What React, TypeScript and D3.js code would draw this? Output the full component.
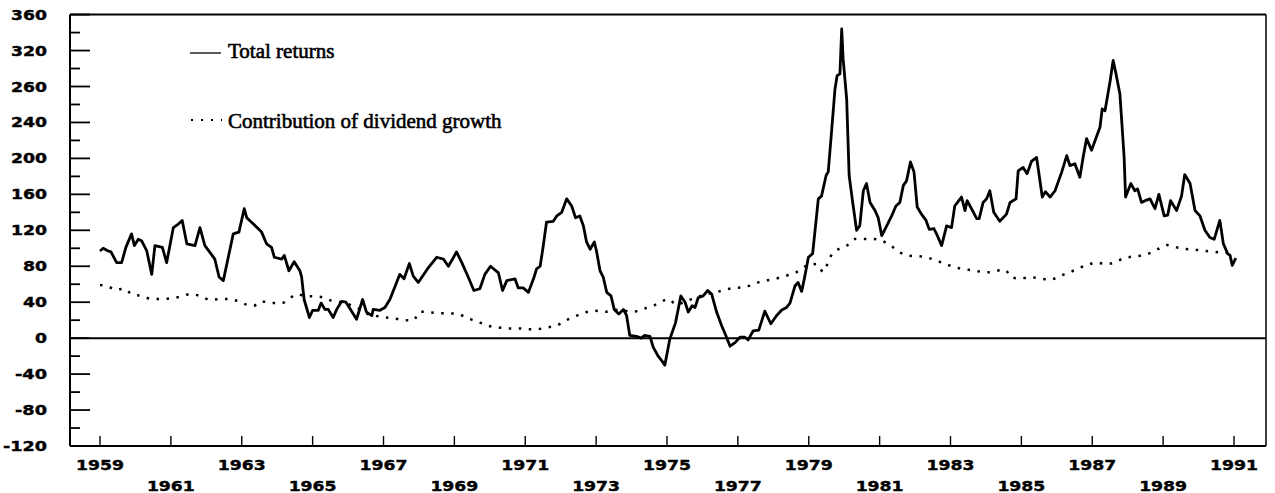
import React from "react";
import * as d3 from "d3";

// [decimal year, value]
const totalReturns: [number, number][] = [
  [1959.0, 97], [1959.09, 100], [1959.23, 97], [1959.31, 96], [1959.47, 84], [1959.61, 84], [1959.73, 101],
  [1959.89, 116], [1959.97, 103], [1960.08, 110], [1960.18, 108], [1960.32, 97], [1960.46, 71], [1960.55, 103],
  [1960.76, 101], [1960.88, 84], [1961.07, 123], [1961.21, 127], [1961.32, 131], [1961.45, 105], [1961.68, 103],
  [1961.82, 123], [1961.96, 103], [1962.24, 88], [1962.36, 68], [1962.48, 64], [1962.76, 116], [1962.92, 118],
  [1963.07, 144], [1963.14, 134], [1963.33, 127], [1963.56, 118], [1963.7, 105], [1963.84, 101], [1963.92, 90],
  [1964.13, 88], [1964.2, 92], [1964.33, 75], [1964.48, 85], [1964.64, 75], [1964.69, 68], [1964.76, 43],
  [1964.91, 23], [1965.0, 31], [1965.16, 31], [1965.24, 39], [1965.35, 32], [1965.44, 32], [1965.58, 23],
  [1965.68, 32], [1965.82, 41], [1965.94, 40], [1966.1, 30], [1966.24, 21], [1966.41, 43], [1966.52, 29],
  [1966.67, 25], [1966.71, 32], [1966.9, 31], [1967.04, 34], [1967.18, 43], [1967.3, 55], [1967.46, 71],
  [1967.58, 66], [1967.73, 83], [1967.84, 69], [1967.98, 62], [1968.24, 77], [1968.5, 90], [1968.69, 88],
  [1968.83, 80], [1968.95, 88], [1969.06, 96], [1969.21, 84], [1969.39, 68], [1969.55, 53], [1969.72, 55],
  [1969.86, 71], [1970.02, 80], [1970.17, 75], [1970.24, 73], [1970.36, 53], [1970.48, 64], [1970.71, 66],
  [1970.8, 56], [1970.94, 56], [1971.09, 51], [1971.25, 68], [1971.32, 77], [1971.42, 80], [1971.51, 103],
  [1971.6, 129], [1971.79, 130], [1971.89, 136], [1972.03, 140], [1972.17, 155], [1972.31, 147], [1972.42, 134],
  [1972.54, 136], [1972.64, 125], [1972.73, 107], [1972.83, 99], [1972.95, 107], [1973.01, 97], [1973.11, 75],
  [1973.2, 68], [1973.3, 51], [1973.42, 47], [1973.51, 32], [1973.64, 27], [1973.77, 32], [1973.86, 25],
  [1973.95, 3], [1974.14, 2], [1974.27, 0], [1974.36, 3], [1974.52, 2], [1974.61, -10], [1974.75, -20],
  [1974.85, -25], [1974.94, -30], [1975.08, -1], [1975.24, 17], [1975.39, 47], [1975.51, 40], [1975.6, 29],
  [1975.71, 36], [1975.79, 34], [1975.88, 45], [1976.02, 47], [1976.15, 53], [1976.26, 49], [1976.4, 29],
  [1976.54, 14], [1976.66, 3], [1976.78, -9], [1976.92, -5], [1977.06, 1], [1977.2, 1], [1977.29, -2],
  [1977.43, 8], [1977.59, 9], [1977.76, 30], [1977.93, 16], [1978.09, 25], [1978.23, 31], [1978.37, 34],
  [1978.47, 39], [1978.61, 58], [1978.7, 62], [1978.8, 52], [1978.89, 69], [1978.99, 90], [1979.11, 94],
  [1979.27, 155], [1979.36, 158], [1979.49, 181], [1979.55, 185], [1979.65, 233], [1979.74, 277], [1979.8, 292],
  [1979.88, 294], [1979.93, 344], [1979.97, 311], [1980.07, 266], [1980.14, 181], [1980.24, 151], [1980.35, 120],
  [1980.44, 125], [1980.54, 164], [1980.63, 172], [1980.73, 151], [1980.87, 142], [1980.96, 134], [1981.06, 114],
  [1981.2, 125], [1981.34, 136], [1981.46, 147], [1981.57, 151], [1981.67, 170], [1981.76, 175], [1981.87, 196],
  [1981.97, 185], [1982.06, 146], [1982.18, 138], [1982.31, 131], [1982.4, 121], [1982.53, 122], [1982.63, 114],
  [1982.75, 103], [1982.89, 125], [1983.03, 123], [1983.12, 147], [1983.31, 157], [1983.41, 142], [1983.47, 153],
  [1983.62, 142], [1983.74, 133], [1983.81, 133], [1983.92, 151], [1984.02, 155], [1984.11, 164], [1984.22, 140],
  [1984.39, 130], [1984.58, 138], [1984.68, 151], [1984.85, 155], [1984.91, 186], [1985.05, 190], [1985.16, 183],
  [1985.29, 197], [1985.43, 201], [1985.59, 157], [1985.68, 163], [1985.81, 157], [1985.95, 164], [1986.14, 185],
  [1986.28, 203], [1986.37, 192], [1986.51, 194], [1986.65, 179], [1986.75, 203], [1986.84, 222], [1986.98, 209],
  [1987.12, 224], [1987.22, 235], [1987.28, 255], [1987.36, 253], [1987.5, 285], [1987.59, 309], [1987.66, 296],
  [1987.78, 272], [1987.9, 201], [1987.94, 157], [1988.09, 172], [1988.2, 164], [1988.28, 166], [1988.39, 151],
  [1988.49, 153], [1988.63, 155], [1988.77, 144], [1988.88, 160], [1989.03, 136], [1989.13, 137], [1989.21, 153],
  [1989.38, 142], [1989.52, 158], [1989.61, 182], [1989.76, 172], [1989.9, 142], [1990.04, 136], [1990.18, 120],
  [1990.32, 112], [1990.44, 110], [1990.6, 131], [1990.7, 105], [1990.82, 94], [1990.89, 92], [1990.95, 81],
  [1991.05, 89],
];

const dividendGrowth: [number, number][] = [
  [1959.0, 59], [1959.23, 57.6], [1959.42, 54], [1959.69, 55], [1959.89, 49], [1960.18, 47], [1960.46, 43.5],
  [1960.74, 43.5], [1961.02, 44.6], [1961.31, 46.4], [1961.54, 49], [1961.82, 47], [1962.1, 42.7], [1962.39, 43.5],
  [1962.62, 43.5], [1962.86, 41.6], [1963.09, 37.9], [1963.33, 36], [1963.56, 40.9], [1963.84, 39], [1964.13, 39],
  [1964.33, 43.5], [1964.55, 49], [1964.78, 47], [1965.07, 46.4], [1965.3, 45.3], [1965.54, 41.6], [1965.91, 39],
  [1966.24, 34], [1966.57, 26.7], [1966.9, 24], [1967.28, 22], [1967.61, 20], [1967.84, 19.8], [1968.03, 29.5],
  [1968.36, 28.6], [1968.59, 27.7], [1968.88, 27.5], [1969.11, 26.7], [1969.39, 21.9], [1969.67, 18.2],
  [1969.96, 13.7], [1970.24, 11.9], [1970.52, 10.8], [1970.8, 10.8], [1971.09, 10], [1971.32, 10], [1971.6, 11.9],
  [1971.89, 14], [1972.12, 19.3], [1972.4, 24.1], [1972.69, 28.6], [1972.97, 30.4], [1973.25, 29.3], [1973.53, 31.5],
  [1973.81, 30.4], [1974.05, 29.3], [1974.3, 32.3], [1974.57, 35.3], [1974.8, 39.8], [1975.04, 43.5], [1975.27, 37],
  [1975.51, 41], [1975.75, 44], [1976.02, 48], [1976.26, 50], [1976.54, 52.7], [1976.82, 55.4], [1977.11, 56.5],
  [1977.39, 59], [1977.62, 62.7], [1977.91, 65], [1978.14, 66.9], [1978.42, 70.2], [1978.7, 74.3], [1978.94, 80.6],
  [1979.22, 82.5], [1979.41, 73.9], [1979.6, 89.9], [1979.88, 99.9], [1980.07, 102.8], [1980.3, 110.3],
  [1980.54, 110.3], [1980.82, 110.3], [1981.06, 108.4], [1981.34, 102.2], [1981.57, 95.5], [1981.84, 91.7],
  [1982.14, 91], [1982.42, 88.8], [1982.65, 85.5], [1982.94, 81.3], [1983.22, 78], [1983.5, 76.1], [1983.78, 74.3],
  [1984.06, 73.2], [1984.3, 75], [1984.54, 76.1], [1984.72, 67.6], [1984.96, 66.5], [1985.24, 67.6], [1985.52, 66.5],
  [1985.81, 65], [1986.09, 69.4], [1986.37, 73.2], [1986.6, 77.7], [1986.87, 81.3], [1987.12, 84.3], [1987.36, 82.5],
  [1987.64, 84.3], [1987.88, 88.8], [1988.11, 90.6], [1988.35, 91.7], [1988.63, 94.7], [1988.86, 99.2],
  [1989.1, 103.6], [1989.38, 101], [1989.61, 99.2], [1989.9, 98.4], [1990.13, 97.3], [1990.42, 96.2], [1990.6, 95.4],
  [1990.83, 94.7],
];

const yTickValues = [360, 320, 280, 240, 200, 160, 120, 80, 40, 0, -40, -80, -120];
// the source prints "260" at the 280 tick
const yTickLabels = ["360", "320", "260", "240", "200", "160", "120", "80", "40", "0", "-40", "-80", "-120"];
const yearTicks = d3.range(1959, 1992, 2);
const legendLabels = ["Total returns", "Contribution of dividend growth"];

const W = 1275;
const H = 493;
const left = 70;
const right = 1266;
const top = 14.6;
const bottom = 446;

export default function App() {
  const x = d3.scaleLinear().domain([1959, 1991]).range([100, 1234]);
  const y = d3.scaleLinear().domain([-120, 360]).range([bottom, top]);

  const line = d3
    .line<[number, number]>()
    .x((d) => x(d[0]))
    .y((d) => y(d[1]));
  const smooth = d3
    .line<[number, number]>()
    .x((d) => x(d[0]))
    .y((d) => y(d[1]))
    .curve(d3.curveMonotoneX);

  const minor = d3.range(-100, 360, 40);
  const tickFont = {
    fontFamily: "DejaVu Sans",
    fontWeight: 700,
    fontSize: 14,
    stroke: "#000",
    strokeWidth: 0.4,
  } as const;

  return (
    <svg
      width={W}
      height={H}
      style={{ position: "absolute", left: 0, top: 0, background: "#fff" }}
    >
      {/* frame */}
      <line x1={left} x2={right} y1={top} y2={top} stroke="#000" strokeWidth={2} />
      <line x1={right} x2={right} y1={top} y2={bottom} stroke="#000" strokeWidth={1.5} />
      <line x1={left} x2={right} y1={bottom} y2={bottom} stroke="#000" strokeWidth={2} />
      <line x1={left} x2={left} y1={top} y2={bottom} stroke="#000" strokeWidth={2} />
      <line x1={left} x2={right} y1={y(0)} y2={y(0)} stroke="#000" strokeWidth={2} />

      {/* y ticks */}
      {yTickValues.map((v, i) => (
        <g key={v}>
          <line x1={left} x2={left + 20} y1={y(v)} y2={y(v)} stroke="#000" strokeWidth={1.8} />
          <text
            x={47}
            y={y(v) + 5}
            textAnchor="end"
            textLength={yTickLabels[i].replace("-", "").length * 12 + (yTickLabels[i].startsWith("-") ? 8 : 0)}
            lengthAdjust="spacingAndGlyphs"
            {...tickFont}
          >
            {yTickLabels[i]}
          </text>
        </g>
      ))}
      {minor.map((v) => (
        <line key={v} x1={left} x2={left + 10} y1={y(v)} y2={y(v)} stroke="#000" strokeWidth={1.8} />
      ))}

      {/* x ticks */}
      {yearTicks.map((yr, i) => (
        <g key={yr}>
          <line x1={x(yr)} x2={x(yr)} y1={bottom} y2={bottom - 10} stroke="#000" strokeWidth={1.4} />
          <text
            x={x(yr)}
            y={i % 2 === 0 ? 470 : 491}
            textAnchor="middle"
            textLength={48}
            lengthAdjust="spacingAndGlyphs"
            {...tickFont}
          >
            {yr}
          </text>
        </g>
      ))}

      {/* series */}
      <path d={smooth(dividendGrowth) ?? ""} fill="none" stroke="#000" strokeWidth={2.5} strokeDasharray="2.5 7.5" />
      <path d={line(totalReturns) ?? ""} fill="none" stroke="#000" strokeWidth={2.8} strokeLinejoin="round" />

      {/* legend */}
      <line x1={190} x2={221} y1={53} y2={53} stroke="#000" strokeWidth={1.3} />
      <text x={228} y={58} fontFamily="Liberation Serif" fontSize={21} stroke="#000" strokeWidth={0.6}>
        {legendLabels[0]}
      </text>
      <line x1={191} x2={222} y1={120} y2={120} stroke="#000" strokeWidth={2} strokeDasharray="2 8" />
      <text x={228} y={128} fontFamily="Liberation Serif" fontSize={21} stroke="#000" strokeWidth={0.6}>
        {legendLabels[1]}
      </text>
    </svg>
  );
}
